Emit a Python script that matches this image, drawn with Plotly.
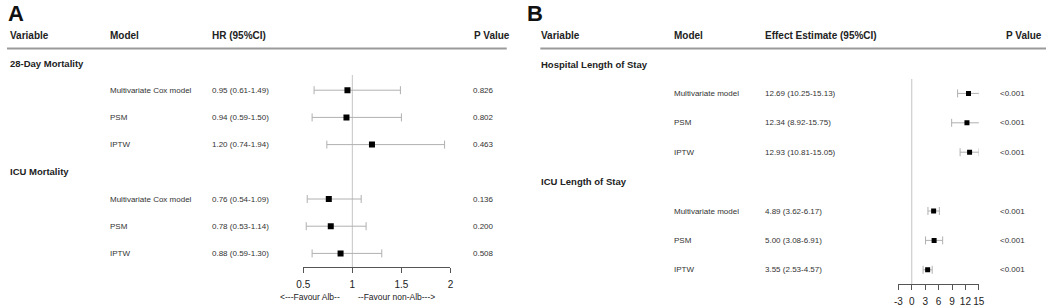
import plotly.graph_objects as go

W, H = 1052, 307

# ---------------- Data ----------------
a_groups = ["28-Day Mortality", "ICU Mortality"]
a_models = ["Multivariate Cox model", "PSM", "IPTW"]
a_hr = [[0.95, 0.94, 1.20], [0.76, 0.78, 0.88]]
a_lo = [[0.61, 0.59, 0.74], [0.54, 0.53, 0.59]]
a_hi = [[1.49, 1.50, 1.94], [1.09, 1.14, 1.30]]
a_p = [["0.826", "0.802", "0.463"], ["0.136", "0.200", "0.508"]]
a_ticks = [0.5, 1, 1.5, 2]

b_groups = ["Hospital Length of Stay", "ICU Length of Stay"]
b_models = ["Multivariate model", "PSM", "IPTW"]
b_est = [[12.69, 12.34, 12.93], [4.89, 5.00, 3.55]]
b_lo = [[10.25, 8.92, 10.81], [3.62, 3.08, 2.53]]
b_hi = [[15.13, 15.75, 15.05], [6.17, 6.91, 4.57]]
b_p = [["<0.001", "<0.001", "<0.001"], ["<0.001", "<0.001", "<0.001"]]
b_ticks = [-3, 0, 3, 6, 9, 12, 15]

FONT = "Liberation Sans, Arial, sans-serif"

# row layout (pixel of row 0 and spacing) per panel
A_Y0, A_DY = 35.8, 27.2
B_Y0, B_DY = 64.0 - 29.4, 29.4


def px(x):
    return x / W


def py(y):
    return 1 - y / H


fig = go.Figure()
annotations = []
shapes = []


def txt(x, y, text, size=8, bold=False, color="#333", yref="paper", xanchor="left"):
    annotations.append(dict(
        x=px(x), y=y, xref="paper", yref=yref, text=f"<b>{text}</b>" if bold else text,
        showarrow=False, xanchor=xanchor, yanchor="middle",
        font=dict(family=FONT, size=size, color=color), borderpad=0, borderwidth=0))


def panel(letter, lx, groups, models, est, lo, hi, pvals, xa, ya, cols, header_ci,
          line_x0, line_x1, ref_val, ref_y0, ref_y1, msize):
    txt(lx, py(13), letter, size=22, bold=True, color="#111")
    cv, cm, cc, cp, cph = cols
    txt(cv, py(35.5), "Variable", size=10, bold=True, color="#222")
    txt(cm, py(35.5), "Model", size=10, bold=True, color="#222")
    txt(cc, py(35.5), header_ci, size=10, bold=True, color="#222")
    txt(cph, py(35.5), "P Value", size=10, bold=True, color="#222")
    shapes.append(dict(type="line", xref="paper", yref="paper", x0=px(line_x0), x1=px(line_x1),
                       y0=py(48.6), y1=py(48.6), line=dict(color="#9a9a9a", width=2)))
    row = 1
    for g in range(len(groups)):
        txt(cv, row, groups[g], size=9.5, bold=True, color="#222", yref=ya)
        row += 1
        ys = []
        for m in range(len(models)):
            txt(cm, row, models[m], yref=ya)
            txt(cc, row, f"{est[g][m]:.2f} ({lo[g][m]:.2f}-{hi[g][m]:.2f})", yref=ya)
            txt(cp, row, pvals[g][m], yref=ya)
            ys.append(row)
            row += 1
        fig.add_trace(go.Scatter(
            x=est[g], y=ys, xaxis=xa, yaxis=ya, mode="markers",
            marker=dict(symbol="square", size=msize, color="black"),
            error_x=dict(type="data", symmetric=False,
                         array=[h - e for h, e in zip(hi[g], est[g])],
                         arrayminus=[e - l for e, l in zip(est[g], lo[g])],
                         color="#b0b0b0", thickness=1, width=4),
            showlegend=False, hoverinfo="skip"))
    shapes.append(dict(type="line", xref=xa, yref="paper", x0=ref_val, x1=ref_val,
                       y0=py(ref_y0), y1=py(ref_y1), line=dict(color="#c4c4c4", width=1),
                       layer="below"))


panel("A", 1, a_groups, a_models, a_hr, a_lo, a_hi, a_p, "x", "y",
      (3, 104, 208, 472, 473), "HR (95%CI)", 0, 506, 1, 267, 75, 6)
panel("B", 527, b_groups, b_models, b_est, b_lo, b_hi, b_p, "x2", "y2",
      (541, 675, 767, 1005, 1011), "Effect Estimate (95%CI)", 540, 1052, 0, 284, 79, 5)

txt(337, py(297), "&lt;---Favour Alb--", size=8.5, color="#222", xanchor="right")
txt(355, py(297), "--Favour non-Alb---&gt;", size=8.5, color="#222")

axis_common = dict(showgrid=False, zeroline=False, showline=True, linecolor="#555",
                   linewidth=1, ticks="outside", ticklen=5, tickcolor="#555",
                   tickfont=dict(family=FONT, size=10, color="#222"), anchor="free",
                   side="bottom", fixedrange=True, tickangle=0, ticklabelstandoff=3)

fig.update_layout(
    width=W, height=H, margin=dict(l=0, r=0, t=0, b=0),
    paper_bgcolor="white", plot_bgcolor="white",
    xaxis=dict(domain=[px(300), px(449)], range=[0.5, 2], tickvals=a_ticks,
               ticktext=[f"{t:g}" for t in a_ticks], position=py(267), **axis_common),
    yaxis=dict(domain=[0, 1], range=[(H - A_Y0) / A_DY, -A_Y0 / A_DY], visible=False,
               anchor="x", fixedrange=True),
    xaxis2=dict(domain=[px(902.5), px(984)], range=[-3, 15], tickvals=b_ticks,
                ticktext=[f"{t:g}" for t in b_ticks], position=py(284), **axis_common),
    yaxis2=dict(domain=[0, 1], range=[(H - B_Y0) / B_DY, -B_Y0 / B_DY], visible=False,
                anchor="x2", fixedrange=True),
    annotations=annotations, shapes=shapes,
)

fig.write_html("out.html", config={"displayModeBar": False},
               post_script="document.body.style.margin='0';document.body.style.overflow='hidden';")
